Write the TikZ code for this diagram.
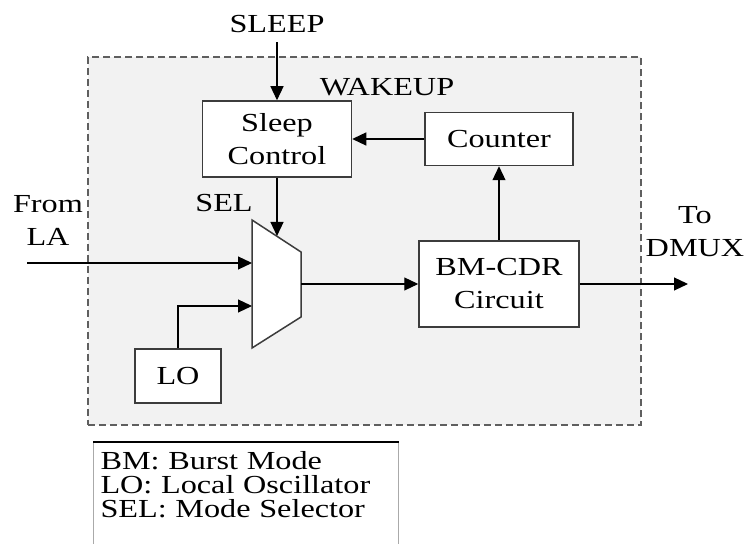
\documentclass[tikz,border=0pt]{standalone}
\usepackage{fontspec}
\setmainfont{Liberation Serif}[FakeStretch=1.24]
\usetikzlibrary{arrows.meta, positioning, calc}
\definecolor{PanelGrey}{RGB}{242, 242, 242}
\definecolor{DashGrey}{RGB}{95, 95, 95}
\definecolor{BoxGrey}{RGB}{60, 60, 60}
\definecolor{LegendGrey}{RGB}{170, 170, 170}

\begin{document}
\begin{tikzpicture}[x=0.5pt, y=-0.5pt, font=\fontsize{13}{16.5}\selectfont,
    block/.style={draw=BoxGrey, line width=0.75pt, fill=white, inner sep=0pt, align=center},
    tag/.style={inner sep=0pt, align=center},
    sig/.style={-{Triangle[length=7pt, width=6.5pt]}, line width=0.6pt, black}]
        \clip (0,0) rectangle (750,544);
        \fill[white] (0,0) rectangle (750,544);
        \node[draw=DashGrey, fill=PanelGrey, dash pattern=on 3.5pt off 2pt, line width=0.6pt, inner sep=0pt, minimum width=276.5pt, minimum height=184pt] (wakeup) at (364.5,241) {};
        \node[tag] (sleeptag) at (277,24) {SLEEP};
        \node[tag] (wakeuptag) at (387,87) {WAKEUP};
        \node[block, minimum width=74.5pt, minimum height=38pt] (sleep) at (277,139) {Sleep\\Control};
        \node[block, minimum width=74pt, minimum height=26.5pt] (counter) at (499,139) {Counter};
        \node[block, minimum width=80pt, minimum height=43pt] (bmcdr) at (499,284) {BM-CDR\\Circuit};
        \node[block, minimum width=43pt, minimum height=27pt] (lo) at (178,376) {LO};
        \node[tag] (seltag) at (224,203) {SEL};
        \node[tag] (fromla) at (48,220) {From\\LA};
        \node[tag] (todmux) at (695,232) {To\\DMUX};
        \coordinate (muxtl) at (252,220);
        \coordinate (muxtr) at (301,252);
        \coordinate (muxbr) at (301,317);
        \coordinate (muxbl) at (252,348);
        \draw[draw=BoxGrey, line width=0.75pt, fill=white] (muxtl) -- (muxtr) -- (muxbr) -- (muxbl) -- cycle;
        \coordinate (muxsel) at (277,236);
        \coordinate (muxa) at (252,263);
        \coordinate (muxb) at (252,306);
        \coordinate (muxout) at (301,284);
        \coordinate (lain) at (27,263);
        \coordinate (dmuxout) at (688,284);
        \draw[sig, shorten <=4.5pt] (sleeptag.south) -- (sleep.north);
        \draw[sig] (sleep.south) -- (muxsel);
        \draw[sig] (counter.west) -- (sleep.east);
        \draw[sig] (bmcdr.north) -- (counter.south);
        \draw[sig] (lain) -- (muxa);
        \draw[sig] (lo.north) |- (muxb);
        \draw[sig] (muxout) -- (bmcdr.west);
        \draw[sig] (bmcdr.east) -- (dmuxout);
        \node[draw=LegendGrey, line width=0.5pt, anchor=north west, align=left, inner xsep=3.5pt, inner ysep=4pt, text width=145.5pt, text height=9.5pt, text depth=45pt, font=\fontsize{13}{12}\selectfont] (legend) at (93,442) {BM: Burst Mode\\LO: Local Oscillator\\SEL: Mode Selector};
        \draw[line width=1pt] (legend.north west) -- (legend.north east);
    \end{tikzpicture}
\end{document}
